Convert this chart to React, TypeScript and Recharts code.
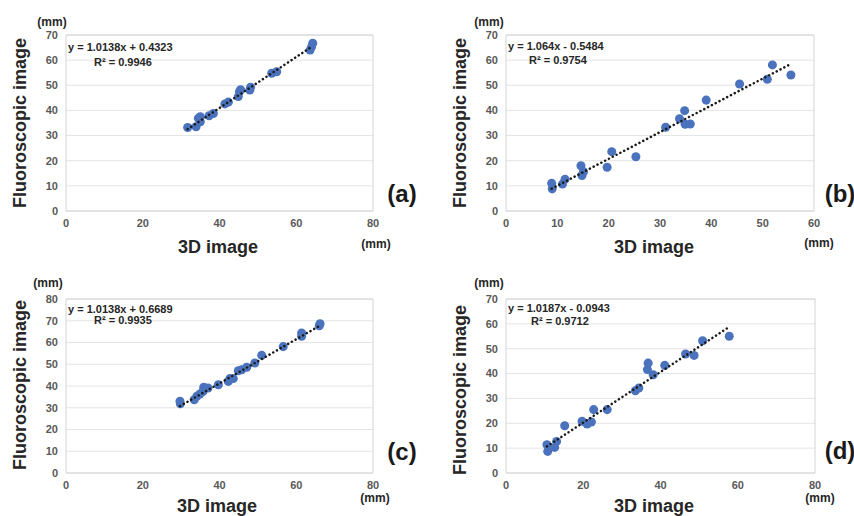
import React from 'react';
import { ScatterChart, Scatter, XAxis, YAxis, CartesianGrid, ReferenceArea } from 'recharts';

// (a)
const aX = [31.7, 33.9, 34.5, 35.0, 35.0, 37.3, 38.4, 41.4, 42.3, 44.9, 45.2, 45.5, 47.9, 48.1, 53.6, 54.9, 63.6, 64.0, 64.3];
const aY = [33.2, 33.5, 36.9, 35.5, 37.5, 37.9, 38.8, 42.6, 43.3, 45.5, 47.5, 48.2, 48.1, 49.2, 54.8, 55.4, 64.0, 65.3, 66.7];
const aSlope = 1.0138;
const aIntercept = 0.4323;
const aR2 = '0.9946';

// (b)
const bX = [8.9, 9.0, 11.0, 11.5, 14.6, 14.8, 15.1, 19.7, 20.6, 25.3, 31.1, 33.8, 34.8, 34.9, 35.9, 39.0, 45.5, 50.9, 51.9, 55.5];
const bY = [11.0, 8.8, 10.7, 12.6, 18.0, 14.1, 15.6, 17.4, 23.6, 21.6, 33.3, 36.7, 39.9, 34.5, 34.6, 44.1, 50.5, 52.4, 58.1, 54.1];
const bSlope = 1.064;
const bIntercept = -0.5484;
const bR2 = '0.9754';

// (c)
const cX = [29.7, 29.8, 33.4, 34.1, 34.9, 35.7, 35.9, 37.0, 39.7, 42.3, 42.7, 43.6, 44.9, 45.8, 47.1, 49.2, 51.0, 56.6, 61.4, 61.4, 66.0, 66.2];
const cY = [33.0, 31.8, 33.7, 35.3, 36.3, 37.5, 39.4, 39.1, 40.6, 42.1, 43.4, 43.4, 47.0, 47.5, 48.6, 50.6, 54.1, 58.1, 64.4, 62.9, 67.7, 68.6];
const cSlope = 1.0138;
const cIntercept = 0.6689;
const cR2 = '0.9935';

// (d)
const dX = [10.6, 10.8, 12.6, 13.1, 15.2, 19.7, 21.0, 22.1, 22.7, 26.2, 33.5, 34.4, 36.6, 36.8, 38.1, 41.1, 46.5, 48.7, 50.9, 57.8];
const dY = [11.4, 8.7, 10.3, 12.7, 19.0, 20.8, 19.7, 20.5, 25.5, 25.5, 33.1, 34.2, 41.6, 44.2, 39.5, 43.3, 47.9, 47.3, 53.2, 55.0];
const dSlope = 1.0187;
const dIntercept = -0.0943;
const dR2 = '0.9712';

const ticks80 = [0, 20, 40, 60, 80];
const ticks60 = [0, 10, 20, 30, 40, 50, 60];
const ticksY70 = [0, 10, 20, 30, 40, 50, 60, 70];
const ticksY80 = [0, 10, 20, 30, 40, 50, 60, 70, 80];

const FONT = '"Liberation Sans", Arial, sans-serif';
const tickStyle = { fontSize: 11, fontWeight: 'bold', fill: '#595959', fontFamily: FONT };

function fmtEq(slope: number, intercept: number) {
  const sign = intercept < 0 ? '-' : '+';
  return `y = ${slope}x ${sign} ${Math.abs(intercept)}`;
}

function Panel(props: any) {
  const { left, top, xs, ys, slope, intercept, r2, xMax, yMax, xTicks, yTicks, tag, margin, t } = props;
  const pts = xs.map((x: number, i: number) => ({ x, y: ys[i] }));
  const x0 = Math.min(...xs);
  const x1 = Math.max(...xs);
  const trend = [
    { x: x0, y: slope * x0 + intercept },
    { x: x1, y: slope * x1 + intercept },
  ];

  return (
    <div style={{ position: 'absolute', left, top, width: 427, height: 258 }}>
      <ScatterChart width={427} height={258} margin={margin}>
        <CartesianGrid vertical={false} stroke="#e4e4e4" />
        <ReferenceArea x1={0} x2={xMax} y1={0} y2={yMax} fill="none" stroke="#d4d4d4" />
        <XAxis type="number" dataKey="x" domain={[0, xMax]} ticks={xTicks} interval={0}
          axisLine={false} tickLine={false} tick={tickStyle} height={30} />
        <YAxis type="number" dataKey="y" domain={[0, yMax]} ticks={yTicks} interval={0}
          axisLine={false} tickLine={false} tick={tickStyle} width={40} />
        <Scatter data={pts} fill="#4a72bd" isAnimationActive={false} />
        <Scatter data={trend} isAnimationActive={false} shape={() => <g />}
          line={{ stroke: '#1a1a1a', strokeWidth: 2.5, strokeDasharray: '0.1 4.2', strokeLinecap: 'round' }} />
      </ScatterChart>
      <svg width={427} height={258} style={{ position: 'absolute', left: 0, top: 0, overflow: 'visible', pointerEvents: 'none' }}
        fontFamily={FONT} fontWeight="bold">
        <text x={t.eq[0]} y={t.eq[1]} fontSize={11} fill="#262626" dominantBaseline="central">{fmtEq(slope, intercept)}</text>
        <text x={t.r2[0]} y={t.r2[1]} fontSize={11} fill="#262626" dominantBaseline="central">{`R² = ${r2}`}</text>
        <text x={t.mmTop[0]} y={t.mmTop[1]} fontSize={12} fill="#262626" textAnchor="middle" dominantBaseline="central">(mm)</text>
        <text x={t.mmBot[0]} y={t.mmBot[1]} fontSize={12} fill="#262626" textAnchor="middle" dominantBaseline="central">(mm)</text>
        <text x={t.xTitle[0]} y={t.xTitle[1]} fontSize={18} fill="#262626" textAnchor="middle" dominantBaseline="central">3D image</text>
        <text x={t.yTitle[0]} y={t.yTitle[1]} fontSize={18} fill="#262626" textAnchor="middle" dominantBaseline="central"
          transform={`rotate(-90 ${t.yTitle[0]} ${t.yTitle[1]})`}>Fluoroscopic image</text>
        <text x={t.tag[0]} y={t.tag[1]} fontSize={24} fill="#1a1a1a" textAnchor="middle" dominantBaseline="central">{tag}</text>
      </svg>
    </div>
  );
}

export default function App() {
  return (
    <div style={{ position: 'absolute', left: 0, top: 0, width: 854, height: 516, overflow: 'hidden', background: '#fff' }}>
      <Panel left={0} top={0} xs={aX} ys={aY} slope={aSlope} intercept={aIntercept} r2={aR2}
        xMax={80} yMax={70} xTicks={ticks80} yTicks={ticksY70} tag="(a)"
        margin={{ top: 35, right: 54, bottom: 17, left: 26 }}
        t={{ eq: [68, 47], r2: [94, 62], mmTop: [52, 22], mmBot: [376, 244], xTitle: [218, 247], yTitle: [20, 123], tag: [402, 193] }} />
      <Panel left={427} top={0} xs={bX} ys={bY} slope={bSlope} intercept={bIntercept} r2={bR2}
        xMax={60} yMax={70} xTicks={ticks60} yTicks={ticksY70} tag="(b)"
        margin={{ top: 35, right: 40, bottom: 17, left: 39 }}
        t={{ eq: [81, 46], r2: [102, 60], mmTop: [62, 22], mmBot: [392, 243], xTitle: [227, 247], yTitle: [33, 123], tag: [413, 193] }} />
      <Panel left={0} top={258} xs={cX} ys={cY} slope={cSlope} intercept={cIntercept} r2={cR2}
        xMax={80} yMax={80} xTicks={ticks80} yTicks={ticksY80} tag="(c)"
        margin={{ top: 41, right: 54, bottom: 13, left: 26 }}
        t={{ eq: [68, 51], r2: [94, 62], mmTop: [48, 25], mmBot: [375, 240], xTitle: [217, 248], yTitle: [20, 127], tag: [402, 193] }} />
      <Panel left={427} top={258} xs={dX} ys={dY} slope={dSlope} intercept={dIntercept} r2={dR2}
        xMax={80} yMax={70} xTicks={ticks80} yTicks={ticksY70} tag="(d)"
        margin={{ top: 41, right: 39, bottom: 13, left: 39 }}
        t={{ eq: [81, 50], r2: [104, 63], mmTop: [62, 25], mmBot: [393, 240], xTitle: [227, 248], yTitle: [33, 132], tag: [413, 192] }} />
    </div>
  );
}
